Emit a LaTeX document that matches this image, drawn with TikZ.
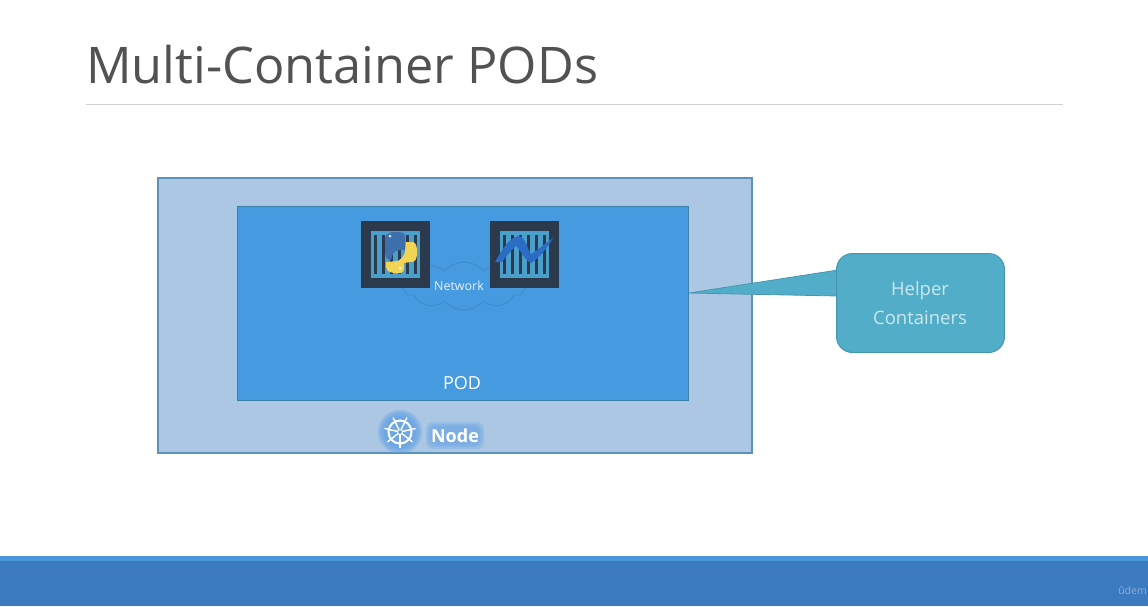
\documentclass[tikz,border=0pt]{standalone}
\usepackage{fontspec}
\setmainfont{Open Sans}
\usetikzlibrary{shapes,arrows}
\definecolor{nodefill}{HTML}{ABC7E3}
\definecolor{nodeline}{HTML}{5C93B8}
\definecolor{podfill}{HTML}{469AE0}
\definecolor{podline}{HTML}{3A80A8}
\definecolor{cloudline}{HTML}{3F8BC6}
\definecolor{boxdark}{HTML}{2C3A4E}
\definecolor{boxlight}{HTML}{4A9FCB}
\definecolor{pyblue}{HTML}{3D6FAC}
\definecolor{pyyellow}{HTML}{F2D455}
\definecolor{swoosh}{HTML}{2B6CC4}
\definecolor{glow}{HTML}{5C9FE6}
\definecolor{helper}{HTML}{52AEC8}
\definecolor{helperline}{HTML}{4795AE}
\definecolor{barlight}{HTML}{4A97DC}
\definecolor{bardark}{HTML}{3B7ABE}
\tikzstyle{box} = [draw, inner sep=0pt, outer sep=0pt]
\tikzstyle{container} = [box, draw=none, fill=boxdark, minimum width=69pt, minimum height=67pt]
\tikzstyle{label} = [text=white, inner sep=0pt]

\begin{document}
\begin{tikzpicture}[x=1pt,y=-1pt,node distance=129pt]
\useasboundingbox (0,0) rectangle (1148,606);

\node[box, draw=none, fill=barlight, minimum width=1148pt, minimum height=50pt] (bar) at (574,581) {};
\node[box, draw=none, fill=bardark, minimum width=1148pt, minimum height=45pt] (barlow) at (574,583.5) {};
\node[text=white!40!bardark, font=\fontsize{10.5}{10.5}\selectfont, anchor=east, inner sep=0pt] (brand) at (1147,591) {ûdem};

\node[anchor=west, inner sep=0pt, text=black!68, font=\fontsize{50.5}{50.5}\selectfont] (title) at (86,65) {Multi-Container PODs};
\coordinate (ruleL) at (86,104);
\coordinate (ruleR) at (1063,104);
\draw[black!18, line width=1pt] (ruleL) -- (ruleR);

\node[box, draw=nodeline, line width=1.3pt, fill=nodefill, minimum width=594pt, minimum height=275pt] (node) at (455,315.5) {};
\node[box, draw=podline, line width=1pt, fill=podfill, minimum width=451pt, minimum height=194pt] (pod) at (462.5,303) {};
\node[label, font=\fontsize{18}{18}\selectfont] (podlabel) at (462,383) {POD};

\node[cloud, cloud puffs=10, cloud puff arc=100, aspect=3, draw=cloudline, line width=0.8pt, fill=podfill, minimum width=122pt, minimum height=48pt, inner sep=0pt] (cloud) at (464,286) {};

\node[container] (c1) at (395.5,254.5) {};
\node[container, right of = c1] (c2) {};
\node[label, text=white!85!podfill, font=\fontsize{12.5}{12.5}\selectfont] (network) at (459,286) {Network};

% barred windows
\node[box, draw=none, fill=boxlight, minimum width=49pt, minimum height=47pt] (w1) at (c1) {};
\node[box, draw=none, fill=boxlight, minimum width=49pt, minimum height=47pt] (w2) at (c2) {};
\foreach \c in {c1,c2} {
  \foreach \i in {-20,-12,-4,4,12,20} {
    \draw[boxdark, line width=2.6pt] ([xshift=\i pt, yshift=19.5pt]\c.center) -- ([xshift=\i pt, yshift=-19.5pt]\c.center);
  }
}

% python
\fill[pyblue] (396,232) .. controls (386,232) and (385,236) .. (385,240) -- (385,252) .. controls (385,258) and (388,260) .. (391,260) .. controls (392,254) and (394,251) .. (399,250) -- (405,250) -- (405,236) .. controls (405,233) and (402,232) .. (396,232) -- cycle;
\fill[pyyellow] (406,242) -- (413,242) .. controls (416,243) and (417,246) .. (417,252) .. controls (417,260) and (415,262) .. (411,262) -- (404,263) -- (404,269) .. controls (404,273) and (399,274) .. (394,273) .. controls (388,272) and (386,270) .. (386,267) -- (386,262) -- (398,261) .. controls (402,258) and (404,256) .. (405,252) -- cycle;
\fill[white!85!pyblue] (390,236) circle (1.5pt);
\fill[white!85!pyyellow] (400,268) circle (1.5pt);

% swoosh
\fill[swoosh] (495,262) .. controls (503,248) and (510,237) .. (519,236) .. controls (525,237) and (527,248) .. (531,254) .. controls (538,250) and (546,243) .. (553,238) .. controls (546,250) and (538,259) .. (531,263) .. controls (524,260) and (521,250) .. (516,246) .. controls (511,250) and (506,257) .. (502,262) -- cycle;

% callout
\coordinate (tip) at (689,293);
\coordinate (tailT) at (838,270);
\coordinate (tailB) at (838,296);
\fill[helper] (tailT) -- (tip) -- (tailB) -- cycle;
\draw[helperline, line width=0.8pt] (tailT) -- (tip) -- (tailB);
\node[box, draw=helperline, line width=1pt, fill=helper, rounded corners=16pt, minimum width=168pt, minimum height=99pt] (help) at (920.5,303) {};
\node[label, text=white!70!helper, font=\fontsize{18.5}{18.5}\selectfont] (help1) at (920,291) {Helper};
\node[label, text=white!70!helper, font=\fontsize{18.5}{18.5}\selectfont] (help2) at (920,318) {Containers};

% helm and label
\foreach \r in {22,20,18,16} {
  \fill[glow, opacity=0.3] (400,432) circle (\r pt);
}
\foreach \g in {0,2,4} {
  \fill[glow, opacity=0.25, rounded corners=7pt] (426+\g,422+\g) rectangle (484-\g,449-\g);
}
\node[circle, draw=white, line width=2pt, minimum size=23pt, inner sep=0pt] (helm) at (400,432) {};
\foreach \a in {-90,-38.6,...,260} {
  \draw[white, line width=1.4pt] (helm.center) -- ([shift={(\a:16pt)}]helm.center);
}
\node[circle, fill=glow, draw=white, line width=1pt, minimum size=5pt, inner sep=0pt] (hub) at (helm) {};
\node[label, font=\bfseries\fontsize{18}{18}\selectfont] (nodelabel) at (455,436) {Node};
\end{tikzpicture}
\end{document}
